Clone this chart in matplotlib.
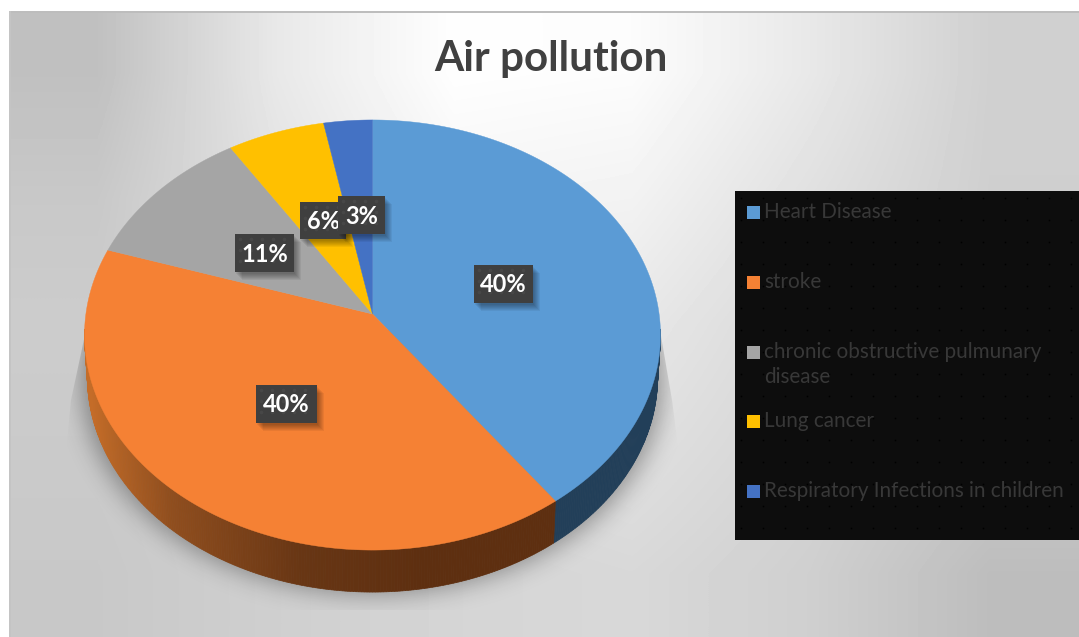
import numpy as np
import matplotlib
matplotlib.use('Agg')
import matplotlib.pyplot as plt
from matplotlib.path import Path
from matplotlib.patches import Polygon, Rectangle

# data
categories = ['Heart Disease', 'stroke', 'chronic obstructive pulmunary\ndisease',
              'Lung cancer', 'Respiratory Infections in children']
shares = [40, 40, 11, 6, 3]
pct_labels = ['40%', '40%', '11%', '6%', '3%']
colors = ['#5b9bd5', '#f58134', '#a5a5a5', '#ffc000', '#4472c4']
wall_colors = ['#223f59', '#5e2f10', '#555555', '#7a5c00', '#223a66']

W, H = 1079, 637
cx, cy = 372.5, 314
rx, ry, k = 286.6, 213, 0.0977   # perspective of the disc
depth = 42

plt.rcParams['font.family'] = ['Lato', 'DejaVu Sans']
fig = plt.figure(figsize=(W / 100, H / 100), dpi=100, facecolor='white')
ax = fig.add_axes([0, 0, 1, 1])
ax.set_xlim(0, W)
ax.set_ylim(H, 0)
ax.axis('off')

# background gradient, from a coarse grid of greys
bg = np.array([
    [0xc0, 0xe8, 0xfe, 0xfc, 0xe8, 0xd0],
    [0xc8, 0xe2, 0xf5, 0xf2, 0xe0, 0xcf],
    [0xcc, 0xd6, 0xe6, 0xe8, 0xd8, 0xcc],
    [0xca, 0xd0, 0xda, 0xe0, 0xd4, 0xc8],
    [0xc8, 0xcf, 0xd5, 0xd8, 0xcf, 0xbd]]) / 255
ax.imshow(bg, extent=(9, W, H, 11), cmap='gray', vmin=0, vmax=1,
          interpolation='bilinear', aspect='auto', zorder=0)
ax.set_xlim(0, W)
ax.set_ylim(H, 0)
ax.add_patch(Rectangle((9, 11), W, 2, color='#bdbdbd', lw=0, zorder=1))
ax.add_patch(Rectangle((9, 11), 2, H, color='#c4c4c4', lw=0, zorder=1))


def rim(deg):
    t = np.radians(deg)
    u, v = np.sin(t), -np.cos(t)
    d = 1 - k * v
    return cx + rx * u / d, cy + ry * v / d


def low(x, y):
    return cx + (x - cx) * 0.99, y + depth


# shadow under the pie
a = np.linspace(0, 360, 361)
sx, sy = rim(a)
sx = cx + (sx - cx) * 1.01
sy = sy + depth + 2
yy, xx = np.mgrid[0:H, 0:W]
mask = Path(np.column_stack([sx, sy])).contains_points(
    np.column_stack([xx.ravel() + .5, yy.ravel() + .5])).reshape(H, W).astype(float)
g = np.exp(-np.arange(-36, 37) ** 2 / (2 * 12.0 ** 2))
g /= g.sum()
mask = np.apply_along_axis(lambda r: np.convolve(r, g, mode='same'), 0, mask)
mask = np.apply_along_axis(lambda r: np.convolve(r, g, mode='same'), 1, mask)
rgba = np.zeros((H, W, 4))
rgba[..., 3] = mask * 0.36
shadow = ax.imshow(rgba, extent=(0, W, H, 0), aspect='auto', zorder=2)
shadow.set_clip_path(Polygon([(86, 330), (71, 400), (65, 462), (65, 610), (680, 610),
                              (680, 462), (672, 400), (660, 330)],
                             closed=True, transform=ax.transData))
ax.set_xlim(0, W)
ax.set_ylim(H, 0)

edges = np.concatenate([[0], np.cumsum(shares)]) * 3.6

# side wall, orange part is shaded by x
for i in range(len(shares)):
    steps = np.arange(edges[i], edges[i + 1] + .5, .5)
    for a0, a1 in zip(steps[:-1], steps[1:]):
        x0, y0 = rim(a0)
        x1, y1 = rim(a1)
        if max(y0, y1) < cy + 15:  # hidden behind the top face
            continue
        lx0, ly0 = low(x0, y0)
        lx1, ly1 = low(x1, y1)
        if i == 1:
            m = (x0 + x1) / 2
            c = [np.interp(m, [90, 170, 300, 420], s) / 255 for s in
                 ([0xc4, 0x90, 0x68, 0x5e], [0x6c, 0x4e, 0x36, 0x2f], [0x28, 0x1e, 0x14, 0x10])]
        else:
            c = wall_colors[i]
        ax.add_patch(Polygon([(x0, y0), (x1, y1), (lx1, ly1), (lx0, ly0)],
                             facecolor=c, edgecolor=c, lw=.5, zorder=3))

# top face
for i in range(len(shares)):
    a = np.linspace(edges[i], edges[i + 1], 200)
    x, y = rim(a)
    pts = np.column_stack([np.r_[cx, x], np.r_[cy, y]])
    ax.add_patch(Polygon(pts, facecolor=colors[i], edgecolor=colors[i], lw=.3, zorder=4))

# data labels: dark boxes
boxes = [(474, 265, 59, 38), (256, 385, 61, 38), (235, 234, 59, 38),
         (300, 202, 46, 37), (338, 196, 47, 38)]
for n, (lab, (bx, by, bw, bh)) in enumerate(zip(pct_labels, boxes)):
    z = 5 + n * .1
    for off in np.arange(8, 1, -1):
        ax.add_patch(Rectangle((bx + off - 1, by + off), bw, bh, facecolor='black', alpha=.055,
                               lw=0, zorder=z))
    ax.add_patch(Rectangle((bx, by), bw, bh, facecolor='#3f3f3f', lw=0, zorder=z + .01))
    dx = np.arange(bx + 5, bx + bw - 2, 11)
    dy = np.arange(by + 5, by + bh - 2, 11)
    gx, gy = np.meshgrid(dx, dy)
    ax.scatter(gx.ravel(), gy.ravel(), s=7, color='#474747', lw=0, zorder=z + .02)
    ax.text(bx + bw / 2, by + bh / 2 + 1, lab, color='white', fontsize=17, fontweight='bold',
            ha='center', va='center', zorder=z + .03)

# title
ax.text(550.5, 59, 'Air pollution', color='#404040', fontsize=30.3, fontweight='bold',
        ha='center', va='center', zorder=6)

# legend
ax.add_patch(Rectangle((735, 191), W - 735, 349, facecolor='#0d0d0d', lw=0, zorder=6))
gx, gy = np.meshgrid(np.arange(741, W, 22), np.arange(198, 540, 22))
ax.scatter(gx.ravel(), gy.ravel(), s=1.5, color='#000000', lw=0, zorder=6.1)
swatch_y = [206, 276, 346, 415, 485]
for name, col, sy0 in zip(categories, colors, swatch_y):
    ax.add_patch(Rectangle((747, sy0), 13, 13, facecolor=col, lw=0, zorder=6.2))
    ax.text(764, sy0 - 4, name, color='#383838', fontsize=14.9, ha='left', va='top',
            linespacing=1.3, zorder=6.2)

fig.savefig('out.png', dpi=100)
